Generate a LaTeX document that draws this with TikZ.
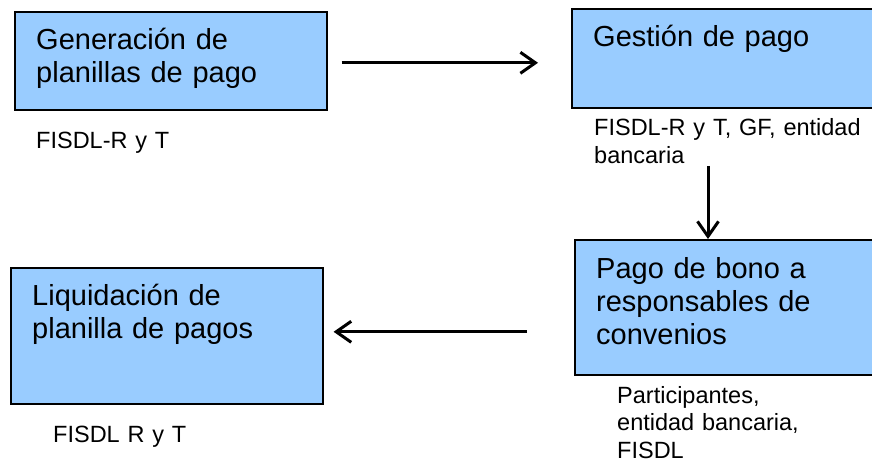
\documentclass[tikz,border=0pt]{standalone}
\usepackage{fontspec}
\setmainfont{Liberation Sans}
\usetikzlibrary{arrows.meta}
\definecolor{boxblue}{HTML}{99CCFF}
\begin{document}
\begin{tikzpicture}[x=1pt, y=-1pt,
		box/.style = {draw, line width=1.6pt, fill=boxblue, rectangle, anchor=north west, inner sep=0pt},
		boxtxt/.style = {anchor=base west, inner sep=0pt, text width=300pt, align=left, font=\fontsize{29}{33}\selectfont},
		note/.style = {anchor=base west, inner sep=0pt, text width=290pt, align=left, font=\fontsize{23.5}{27.5}\selectfont},
		flow/.style = {line width=3pt, -{Straight Barb[length=15pt, width=21pt, line width=3pt]}}]
		\useasboundingbox (0,0) rectangle (872,462);
		\clip (0,0) rectangle (872,462);
		%% NODES
		% Boxes
		\node[box, minimum width=312pt, minimum height=98pt] (gen) at (14,11) {};
		\node[box, minimum width=303pt, minimum height=99pt] (gest) at (571,8) {};
		\node[box, minimum width=300pt, minimum height=135pt] (pago) at (574,239) {};
		\node[box, minimum width=312pt, minimum height=136pt] (liq) at (10,267) {};
		% Texts in the boxes
		\node[boxtxt] (gentxt) at (36,50) {Generación de\\planillas de pago};
		\node[boxtxt] (gesttxt) at (593,47) {Gestión de pago};
		\node[boxtxt] (pagotxt) at (596,278) {Pago de bono a\\responsables de\\convenios};
		\node[boxtxt] (liqtxt) at (32,305) {Liquidación de\\planilla de pagos};
		% Who takes part
		\node[note] (genlbl) at (36,149) {FISDL-R y T};
		\node[note] (gestlbl) at (594,136) {FISDL-R y T, GF, entidad\\bancaria};
		\node[note] (pagolbl) at (617,403) {Participantes,\\entidad bancaria,\\FISDL};
		\node[note] (liqlbl) at (53,442) {FISDL R y T};
		% Free ends
		\coordinate (dstart) at (708,166);
		\coordinate (lend) at ([yshift=4pt]liq.east);
		%% ARROWS
		\draw[flow, shorten <=14pt, shorten >=33pt] ([yshift=-2pt]gen.east) -- ([yshift=-2pt]gen.east -| gest.west);
		\draw[flow] (dstart) -- (dstart |- pago.north);
		\draw[flow, shorten <=47pt, shorten >=10pt] (lend -| pago.west) -- (lend);
	\end{tikzpicture}
\end{document}
